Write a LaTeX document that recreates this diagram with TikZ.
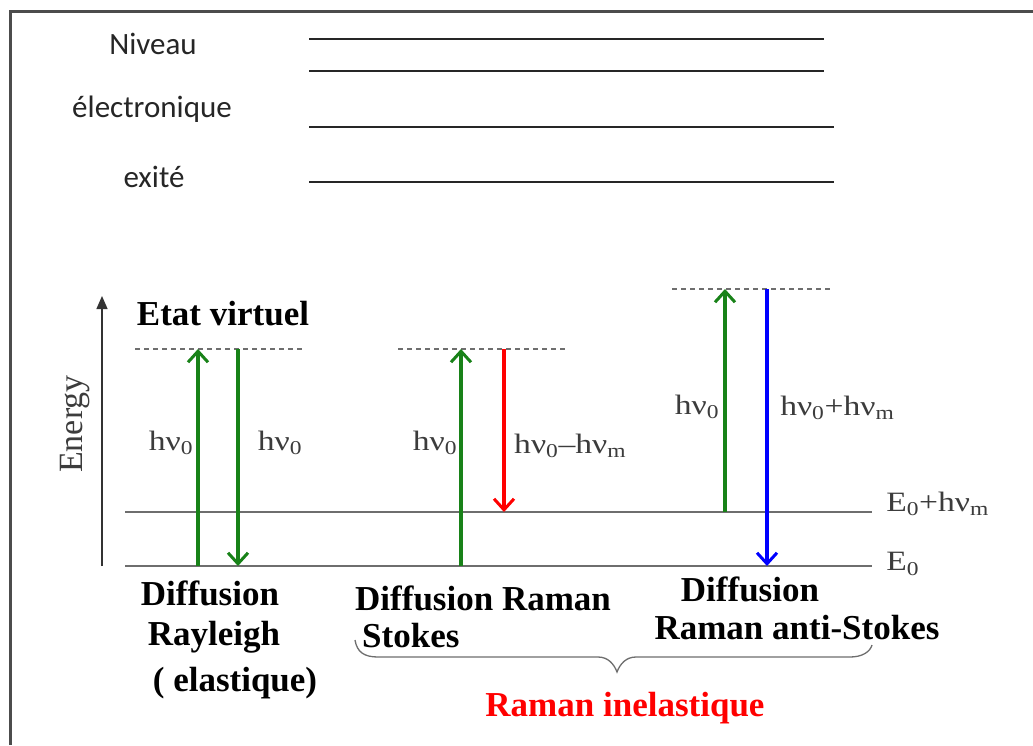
\documentclass[tikz,border=0pt]{standalone}
\usepackage{fontspec}
\setmainfont{Liberation Serif}
\newfontfamily\calib{Carlito}
\usetikzlibrary{arrows.meta}
\definecolor{dgreen}{RGB}{24,130,24}
\definecolor{lvl}{RGB}{110,110,110}
\definecolor{txtg}{RGB}{60,60,60}
\tikzset{
  toplvl/.style={line width=2pt, black!85},
  vlvl/.style={lvl, dashed, dash pattern=on 5pt off 4pt, line width=1.3pt},
  elvl/.style={lvl, line width=1.6pt},
  photon/.style={line width=3.5pt, -{Straight Barb[length=11pt,width=20pt,line width=3pt]}},
  hlab/.style={text=txtg, font=\fontsize{28}{32}\selectfont, xscale=1.2, inner sep=0pt},
  blab/.style={font=\bfseries\fontsize{35}{40}\selectfont, inner sep=0pt},
  slab/.style={font=\calib\fontsize{31}{36}\selectfont, text=black!85, inner sep=0pt}
}
\begin{document}
\begin{tikzpicture}[x=1pt,y=-1pt]
\useasboundingbox (0,0) rectangle (1033,745);
\fill[white] (0,0) rectangle (1033,745);
% frame
\draw[line width=3pt, black!70] (10,745) -- (10,11) -- (1033,11);
% top text and lines
\node[slab] (niv) at (153,44) {Niveau};
\node[slab] (elec) at (152,109) {électronique};
\node[slab] (exi) at (154,177) {exité};
\draw[toplvl] (309,39) -- (824,39);
\draw[toplvl] (309,71) -- (824,71);
\draw[toplvl] (309,127) -- (834,127);
\draw[toplvl] (309,182) -- (834,182);
% energy axis
\coordinate (ax0) at (102,566);
\coordinate (ax1) at (102,296);
\draw[line width=1.3pt, black!80, -{Triangle[length=13pt,width=11pt]}] (ax0) -- (ax1);
\node[rotate=90, text=txtg, font=\fontsize{34}{38}\selectfont, inner sep=0pt] (energy) at (75,424) {Energy};
\node[blab] (etat) at (223,314) {Etat virtuel};
% levels
\draw[elvl] (125,512) -- (872,512);
\draw[elvl] (125,566) -- (872,566);
\draw[vlvl] (135,349) -- (302,349);
\draw[vlvl] (398,349) -- (567,349);
\draw[vlvl] (672,289) -- (832,289);
% Rayleigh
\coordinate (r1a) at (198,566); \coordinate (r1b) at (198,349);
\coordinate (r2a) at (238,349); \coordinate (r2b) at (238,566);
\draw[photon, dgreen] (r1a) -- (r1b);
\draw[photon, dgreen] (r2a) -- (r2b);
\node[hlab] (l1) at (171,443) {hν\textsubscript{0}};
\node[hlab] (l2) at (280,443) {hν\textsubscript{0}};
% Stokes
\coordinate (s1a) at (461,566); \coordinate (s1b) at (461,349);
\coordinate (s2a) at (504,349); \coordinate (s2b) at (504,512);
\draw[photon, dgreen] (s1a) -- (s1b);
\draw[photon, red] (s2a) -- (s2b);
\node[hlab] (l3) at (435,443) {hν\textsubscript{0}};
\node[hlab, anchor=west] (l4) at (514,446) {hν\textsubscript{0}–hν\textsubscript{m}};
% anti-Stokes
\coordinate (a1a) at (725,512); \coordinate (a1b) at (725,289);
\coordinate (a2a) at (767,289); \coordinate (a2b) at (767,566);
\draw[photon, dgreen] (a1a) -- (a1b);
\draw[photon, blue] (a2a) -- (a2b);
\node[hlab] (l5) at (697,407) {hν\textsubscript{0}};
\node[hlab, anchor=west] (l6) at (780,408) {hν\textsubscript{0}+hν\textsubscript{m}};
% level labels
\node[hlab, anchor=west] (e1) at (886,504) {E\textsubscript{0}+hν\textsubscript{m}};
\node[hlab, anchor=west] (e0) at (886,564) {E\textsubscript{0}};
% bottom labels
\node[blab] (d1) at (210,593) {Diffusion};
\node[blab] (d2) at (214,637) {Rayleigh};
\node[blab] (d3) at (235,683) {( elastique)};
\node[blab, anchor=west] (d4) at (355,598) {Diffusion Raman};
\node[blab, anchor=west] (d5) at (362,636) {Stokes};
\node[blab] (d6) at (750,589) {Diffusion};
\node[blab] (d7) at (797,628) {Raman anti-Stokes};
% brace
\draw[lvl, line width=1.3pt] (355,640) .. controls (357,652) and (364,657) .. (378,657)
  -- (598,657) .. controls (608,657) and (614,664) .. (617,672)
  .. controls (620,664) and (626,657) .. (636,657)
  -- (850,657) .. controls (862,657) and (870,652) .. (872,645);
\node[blab, text=red] (rin) at (625,708) {Raman inelastique};
\end{tikzpicture}
\end{document}
